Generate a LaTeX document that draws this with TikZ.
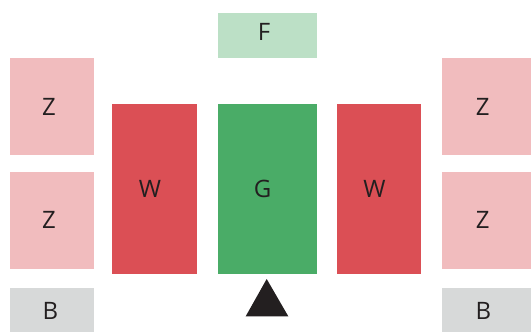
\documentclass[tikz,border=0pt]{standalone}
\usepackage{fontspec}
\setmainfont{Open Sans}
\definecolor{zpink}{HTML}{F1BCBE}
\definecolor{wred}{HTML}{DB4F55}
\definecolor{ggreen}{HTML}{4AAC67}
\definecolor{fgreen}{HTML}{BCE0C6}
\definecolor{bgray}{HTML}{D7D9D9}
\definecolor{txt}{HTML}{231F20}
\begin{document}
\begin{tikzpicture}[x=1pt,y=-1pt,
  blk/.style={inner sep=0pt,outer sep=0pt,text=txt,font=\fontsize{24}{26}\selectfont}]
\useasboundingbox (0,0) rectangle (531,332);
\fill[white] (0,0) rectangle (531,332);
% boxes
\fill[fgreen] (217.7,13) rectangle (316.7,57.7);
\node[blk] (F) at (264,31.5) {F};
\fill[zpink] (10,58) rectangle (94.3,155);
\node[blk] (Z1) at (49,106.5) {Z};
\fill[zpink] (10,172) rectangle (94.3,268.7);
\node[blk] (Z2) at (49,219.5) {Z};
\fill[bgray] (10,288) rectangle (94.3,332);
\node[blk] (B1) at (50.5,310.5) {B};
\fill[zpink] (442,58) rectangle (531,155);
\node[blk] (Z3) at (482.7,106.5) {Z};
\fill[zpink] (442,172) rectangle (531,268.7);
\node[blk] (Z4) at (482.7,219.5) {Z};
\fill[bgray] (442,288) rectangle (531,332);
\node[blk] (B2) at (483.5,310.5) {B};
\fill[wred] (112.3,104) rectangle (197,273.7);
\node[blk] (W1) at (150,188.5) {W};
\fill[ggreen] (217.7,104) rectangle (316.7,273.7);
\node[blk] (G) at (262.7,188.5) {G};
\fill[wred] (336.7,104) rectangle (421.3,273.7);
\node[blk] (W2) at (374.5,188.5) {W};
% triangle
\fill[txt] (266.7,279) -- (288.3,316.3) -- (245.7,316.3) -- cycle;
\end{tikzpicture}
\end{document}
